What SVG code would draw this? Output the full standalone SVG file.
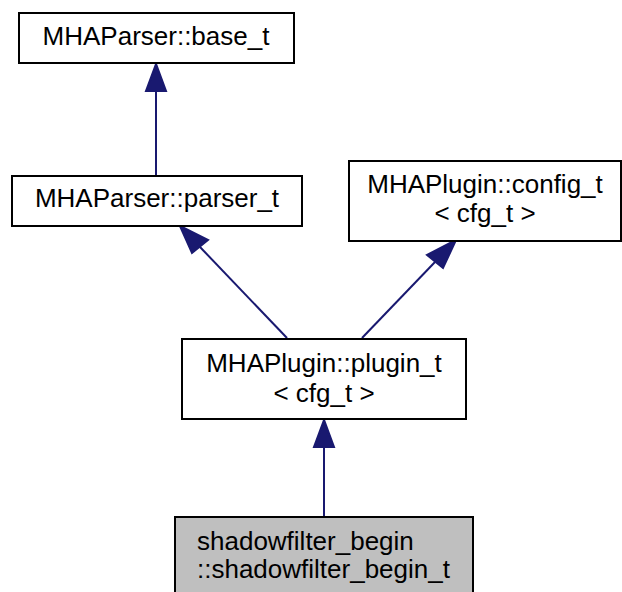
<svg xmlns="http://www.w3.org/2000/svg" width="622" height="592" viewBox="0 0 622 592">
<style>
.box{fill:#ffffff;stroke:#000000;stroke-width:2}
.cur{fill:#bfbfbf;stroke:#000000;stroke-width:2}
.lbl{font-family:"Liberation Sans",Arial,Helvetica,sans-serif;font-size:26px;fill:#000000}
.c{text-anchor:middle}
.edge{fill:none;stroke:#191970;stroke-width:2}
.head{fill:#191970;stroke:#191970;stroke-width:2}
</style>
<rect width="622" height="592" fill="#ffffff"/>
<g id="edges">
<line class="edge" x1="156" y1="176" x2="156" y2="91"/>
<polygon class="head" points="156,64 146,91 166,91"/>
<line class="edge" x1="287" y1="338" x2="200" y2="247"/>
<polygon class="head" points="180,226 192,253 208,240"/>
<line class="edge" x1="362" y1="338" x2="435" y2="262"/>
<polygon class="head" points="456,240 427,255 443,268"/>
<line class="edge" x1="324" y1="517" x2="324" y2="447"/>
<polygon class="head" points="324,420 314,447 334,447"/>
</g>
<g id="node_base">
<rect class="box" x="19" y="13" width="275" height="50"/>
<text class="lbl c" x="156" y="45">MHAParser::base_t</text>
</g>
<g id="node_parser">
<rect class="box" x="12" y="176" width="290" height="50"/>
<text class="lbl c" x="157" y="207">MHAParser::parser_t</text>
</g>
<g id="node_config">
<rect class="box" x="349" y="161" width="272" height="80"/>
<text class="lbl c" x="485" y="193">MHAPlugin::config_t</text>
<text class="lbl c" x="485" y="222">&lt; cfg_t &gt;</text>
</g>
<g id="node_plugin">
<rect class="box" x="182" y="339" width="284" height="80"/>
<text class="lbl c" x="324" y="372">MHAPlugin::plugin_t</text>
<text class="lbl c" x="324" y="402">&lt; cfg_t &gt;</text>
</g>
<g id="node_shadow">
<rect class="cur" x="175" y="517" width="298" height="84"/>
<text class="lbl" x="197" y="550">shadowfilter_begin</text>
<text class="lbl" x="197" y="578">::shadowfilter_begin_t</text>
</g>
</svg>
